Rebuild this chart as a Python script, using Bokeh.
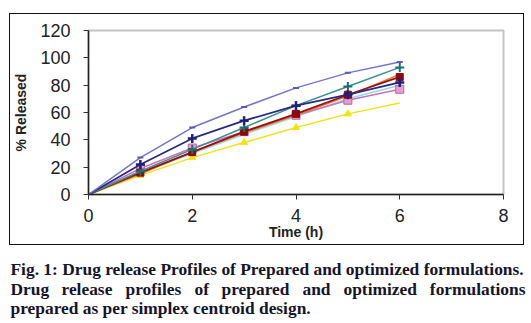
from bokeh.plotting import figure
from bokeh.layouts import column
from bokeh.models import Range1d, FixedTicker
from bokeh.core.properties import value
from bokeh.embed import file_html
from bokeh.resources import INLINE

# ---- data ----
time_h = [0, 1, 2, 3, 4, 5, 6]
f_top = [0, 27, 49, 64, 78, 89, 97]
f_navy = [0, 22, 41, 54, 65, 73, 82]
f_teal = [0, 17, 33, 49, 65, 79, 93]
f_red = [0, 16, 31, 46, 59, 73, 86]
f_orange = [0, 15, 31, 45, 58, 72, 88]
f_pink = [0, 19, 34, 46, 58, 69, 77]
f_cyan = [0, 16, 30, 44, 57, 70, 80]
f_yellow = [0, 14, 27, 38, 49, 59, 67]
x_ticks = [0, 2, 4, 6, 8]
y_ticks = [0, 20, 40, 60, 80, 100, 120]

caption1 = "Fig. 1: Drug release Profiles of Prepared and optimized formulations."
caption2_words = ["Drug", "release", "profiles", "of", "prepared", "and", "optimized", "formulations"]
caption3 = "prepared as per simplex centroid design."

p = figure(width=515, height=232, output_backend="svg", toolbar_location=None,
           x_range=Range1d(0, 8), y_range=Range1d(0, 120),
           min_border_left=78, min_border_right=22, min_border_top=16, min_border_bottom=52)
p.frame_align = False
p.margin = (13, 0, 0, 9)
p.styles = {"border": "1px solid #111111"}
p.grid.visible = False
p.outline_line_color = "#c4c4c4"
p.outline_line_width = 2
p.background_fill_color = "white"
p.border_fill_color = "white"

for ax, ticks in ((p.xaxis[0], x_ticks), (p.yaxis[0], y_ticks)):
    ax.ticker = FixedTicker(ticks=ticks)
    ax.minor_tick_line_color = None
    ax.major_tick_in = 0
    ax.major_tick_out = 5
    ax.axis_line_color = "#222222"
    ax.axis_line_width = 1.5
    ax.major_tick_line_color = "#333333"
    ax.major_label_text_font = "Liberation Sans"
    ax.major_label_text_font_size = "18px"
    ax.major_label_text_color = "#222222"
    ax.axis_label_text_font = "Liberation Sans"
    ax.axis_label_text_font_style = "bold"
    ax.axis_label_text_font_size = "14px"
    ax.axis_label_text_color = "#222222"

p.xaxis.axis_label = "Time (h)"
p.xaxis.major_label_standoff = 9
p.xaxis.axis_label_standoff = -1
p.yaxis.axis_label = "% Released"
p.yaxis.major_label_standoff = 13
p.yaxis.axis_label_standoff = 8

# series
p.line(time_h, f_yellow, line_color="#f2e21a", line_width=1.5)
p.scatter(time_h[1:6], f_yellow[1:6], marker="triangle", size=7, color="#f2e21a")
p.line(time_h, f_cyan, line_color="#8fdcec", line_width=1.5)
p.line(time_h, f_pink, line_color="#d070b8", line_width=1.5)
p.scatter(time_h[1:], f_pink[1:], marker="square", size=8, fill_color="#e0a0d0", line_color="#c060a8")
p.line(time_h, f_orange, line_color="#e08040", line_width=1.5)
p.line(time_h, f_red, line_color="#9a1010", line_width=1.8)
p.scatter(time_h[1:], f_red[1:], marker="square", size=7, color="#8a0a0a")
p.line(time_h, f_teal, line_color="#3a9090", line_width=1.5)
p.scatter(time_h[1:], f_teal[1:], marker="cross", size=9, line_color="#1a7070", line_width=2)
p.line(time_h, f_navy, line_color="#2a2a80", line_width=1.8)
p.scatter(time_h[1:], f_navy[1:], marker="cross", size=9, line_color="#20207a", line_width=2.5)
p.line(time_h, f_top, line_color="#7474c8", line_width=1.5)
p.scatter(time_h[1:], f_top[1:], marker="dash", size=6, line_color="#5a5ab8", line_width=2)

# caption
cap = figure(width=531, height=76, output_backend="svg", toolbar_location=None,
             x_range=Range1d(0, 531), y_range=Range1d(76, 0),
             x_axis_location=None, y_axis_location=None, title=None,
             min_border=0)
cap.frame_align = False
cap.margin = (0, 0, 0, 0)
cap.grid.visible = False
cap.outline_line_color = None
cap.border_fill_color = "white"
cap.background_fill_color = "white"

font = value("Liberation Serif")
col = "#15152a"
fs = "17.4px"
cap.text(x=[10], y=[23], text=[caption1], text_font=font, text_font_size=fs,
         text_font_style="bold", text_color=col, text_baseline="alphabetic")
# justified second line: word start positions
w2_x = [10, 61, 125, 194, 221, 302, 343]
cap.text(x=w2_x, y=[43] * len(w2_x), text=caption2_words[:-1], text_font=font, text_font_size=fs,
         text_font_style="bold", text_color=col, text_baseline="alphabetic")
cap.text(x=[525], y=[43], text=caption2_words[-1:], text_font=font, text_font_size=fs,
         text_font_style="bold", text_color=col, text_baseline="alphabetic", text_align="right")
cap.text(x=[10], y=[62], text=[caption3], text_font=font, text_font_size=fs,
         text_font_style="bold", text_color=col, text_baseline="alphabetic")

layout = column(p, cap, spacing=0)
open("out.html", "w").write(file_html(layout, INLINE))
